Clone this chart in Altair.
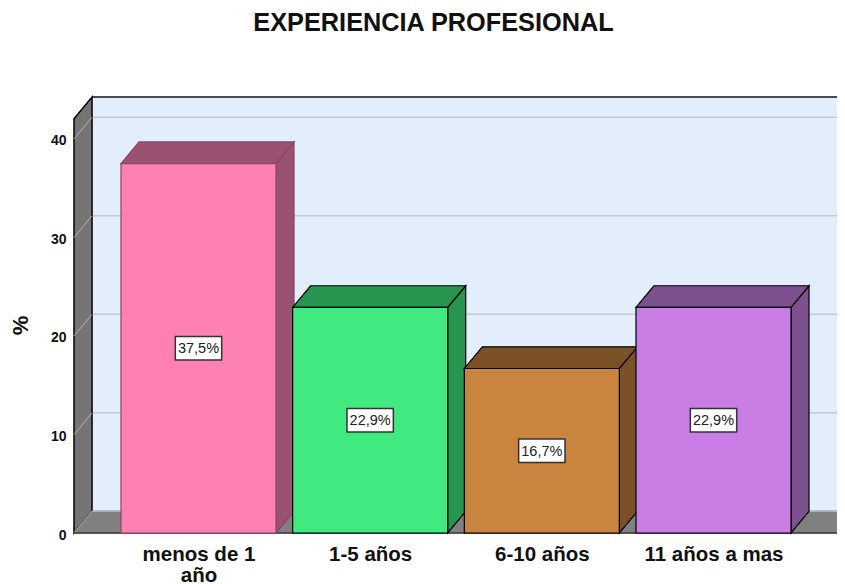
import altair as alt
import pandas as pd

TITLE = "EXPERIENCIA PROFESIONAL"
categories = ["menos de 1 año", "1-5 años", "6-10 años", "11 años a mas"]
values = [37.5, 22.9, 16.7, 22.9]
value_labels = ["37,5%", "22,9%", "16,7%", "22,9%"]
front_colors = ["#ff80b3", "#40ea80", "#c9853f", "#c97ee6"]
dark_colors = ["#9b5170", "#27944f", "#7c5127", "#7d5190"]
edge_colors = ["#8a4568", "#000000", "#000000", "#000000"]
y_ticks = [0, 10, 20, 30, 40]

# geometry of the pseudo-3D box, in data units
DX = 0.105      # depth along x (category units)
DY = 2.2        # depth along y (percent units)
BAR = 0.903     # bar width (category units)
X0, X1 = -0.7252, 3.7194
XEND = 3.86
YTOP = 44.26
WALL_TOP = YTOP - DY

xs = alt.Scale(domain=[X0, X1], nice=False, zero=False)
ys = alt.Scale(domain=[0, YTOP], nice=False, zero=False)

label_expr = ("datum.value==0 ? ['menos de 1','año'] : datum.value==1 ? '1-5 años' : "
              "datum.value==2 ? '6-10 años' : '11 años a mas'")
x_axis = alt.Axis(
    values=[0, 1, 2, 3], labelExpr=label_expr, grid=False, domain=False, ticks=False,
    labelFont="Liberation Sans", labelFontWeight="bold", labelFontSize=20.5,
    labelColor="#111111", labelPadding=11, labelLineHeight=21, labelOverlap=False,
    labelFlush=False)
y_axis = alt.Axis(
    values=y_ticks, format="d", grid=False, domain=False, ticks=False,
    labelFont="Liberation Sans", labelFontWeight="bold", labelFontSize=14,
    labelColor="#111111", labelPadding=8, labelOffset=2, labelOverlap=False,
    labelFlush=False,
    titleFont="Liberation Sans", titleFontWeight="bold", titleFontSize=22,
    titleColor="#111111", titleX=-42, titleY=228)


def X(f="x"):
    return alt.X(f"{f}:Q", scale=xs, axis=x_axis, title=None)


def Y(f="y"):
    return alt.Y(f"{f}:Q", scale=ys, axis=y_axis, title="%")


def side(x, v, color, edge, base=0, sw=1.2):
    df = pd.DataFrame({"x": [x, x + DX], "y": [v, v + DY], "y2": [base, base + DY]})
    return alt.Chart(df).mark_area(fill=color, stroke=edge, strokeWidth=sw, opacity=1, orient="vertical").encode(
        x=X(), y=Y(), y2="y2:Q")


def top(x, x2, v, color, edge, sw=1.2):
    df = pd.DataFrame({"x": [x, x + DX], "x2": [x2, x2 + DX], "y": [v, v + DY]})
    return alt.Chart(df).mark_area(fill=color, stroke=edge, strokeWidth=sw, opacity=1, orient="horizontal").encode(
        x=X(), x2="x2:Q", y=Y())


def seg(xa, ya, xb, yb, color, sw):
    df = pd.DataFrame({"x": [xa, xb], "y": [ya, yb], "o": [0, 1]})
    return alt.Chart(df).mark_line(color=color, strokeWidth=sw).encode(
        x=X(), y=Y(), order="o:Q")


def box(x, x2, y, y2, fill, stroke, sw):
    df = pd.DataFrame({"x": [x], "x2": [x2], "y": [y], "y2": [y2]})
    return alt.Chart(df).mark_rect(fill=fill, stroke=stroke, strokeWidth=sw, opacity=1).encode(
        x=X(), x2="x2:Q", y=Y(), y2="y2:Q")


layers = []

# back wall
layers.append(box(X0 + DX, XEND, DY, YTOP, "#e2eefb", "#e2eefb", 0))
# grid on the back wall
for t in y_ticks:
    layers.append(seg(X0 + DX, t + DY, XEND, t + DY, "#c4c8d0", 1.5))
# back wall top edge
layers.append(seg(X0 + DX, YTOP, XEND, YTOP, "#111111", 1.5))
# left wall
layers.append(side(X0, WALL_TOP, "#757575", "#000000", sw=1.5))
for t in y_ticks:
    layers.append(seg(X0, t, X0 + DX, t + DY, "#b4b4b4", 1))
# floor
layers.append(top(X0, XEND - DX, 0, "#808080", "#808080", sw=1))
layers.append(seg(X0, 0, X0 + DX, DY, "#a8a8a8", 1))
layers.append(seg(X0 + DX, DY, XEND, DY, "#aab2bc", 1.5))
layers.append(seg(X0, 0, XEND, 0, "#3a3a3a", 1.5))

# bars, painted left to right
for i, v in enumerate(values):
    xl, xr = i - BAR / 2, i + BAR / 2
    layers.append(side(xr, v, dark_colors[i], edge_colors[i]))
    layers.append(top(xl, xr, v, dark_colors[i], edge_colors[i]))
    layers.append(box(xl, xr, 0, v, front_colors[i], edge_colors[i], 1.2))

# value labels
for i, v in enumerate(values):
    layers.append(box(i - 0.135, i + 0.135, v / 2 - 1.2, v / 2 + 1.2, "#ffffff", "#333333", 1.5))

label_df = pd.DataFrame({"x": list(range(len(values))),
                         "y": [v / 2 for v in values],
                         "t": value_labels})
layers.append(alt.Chart(label_df).mark_text(
    font="Liberation Sans", fontSize=14.5, color="#222222", baseline="middle", align="center", dy=1
).encode(x=X(), y=Y(), text="t:N"))

chart = alt.layer(*layers).properties(
    width=763,
    height=436,
    padding={"left": 66, "top": 89, "right": 0, "bottom": 51},
    autosize=alt.AutoSizeParams(type="none"),
    title=alt.TitleParams(TITLE, font="Liberation Sans", fontWeight="bold", fontSize=25.3,
                          color="#111111", anchor="middle", dx=-22, offset=58),
).configure_view(stroke=None)

chart.save("out.html", embed_options={"renderer": "svg", "actions": False})
